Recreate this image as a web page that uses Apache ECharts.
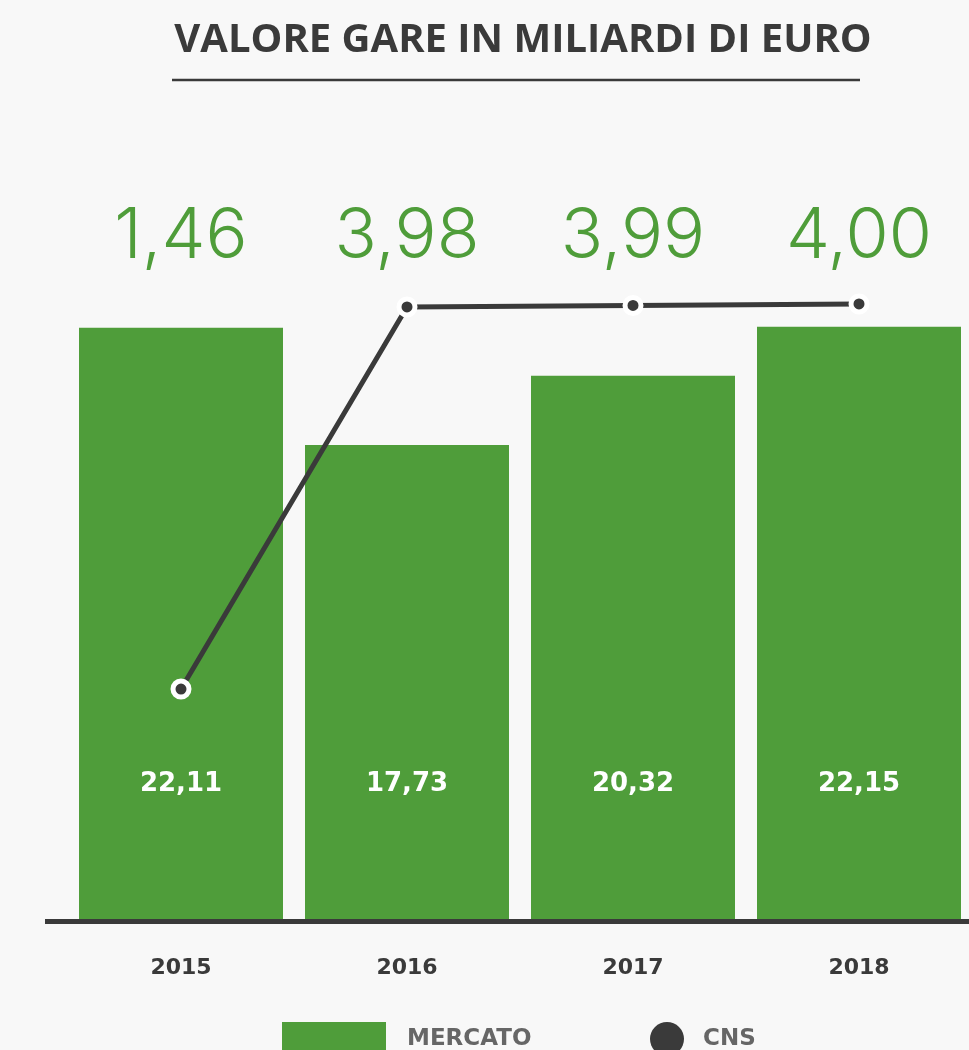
<!DOCTYPE html>
<html>
<head>
<meta charset="utf-8">
<script src="https://cdn.jsdelivr.net/npm/echarts@6/dist/echarts.min.js"></script>
<style>
  html, body { margin: 0; padding: 0; background: #f8f8f8; }
  #chart { width: 969px; height: 1050px; }
</style>
</head>
<body>
<div id="chart"></div>
<script>
// Anni di riferimento
const years = ['2015', '2016', '2017', '2018'];
// Valore gare del mercato (miliardi di euro)
const mercato = [22.11, 17.73, 20.32, 22.15];
// Valore gare CNS (miliardi di euro)
const cns = [1.46, 3.98, 3.99, 4.00];

const GREEN = '#4f9d3a';
const DARK = '#3a3a3a';

const fmt = v => v.toFixed(2).replace('.', ',');

const chart = echarts.init(document.getElementById('chart'), null, { renderer: 'canvas' });

chart.setOption({
  backgroundColor: '#f8f8f8',
  animation: false,
  title: {
    text: 'VALORE GARE IN MILIARDI DI EURO',
    left: 523,
    textAlign: 'center',
    top: 19,
    padding: 0,
    textStyle: {
      fontFamily: 'Open Sans',
      fontWeight: 'bold',
      fontSize: 40,
      lineHeight: 44,
      color: DARK
    }
  },
  graphic: [
    {
      type: 'line',
      shape: { x1: 172, y1: 80, x2: 860, y2: 80 },
      style: { stroke: DARK, lineWidth: 2.5 },
      z: 10
    },
    {
      type: 'line',
      shape: { x1: 45, y1: 921.5, x2: 969, y2: 921.5 },
      style: { stroke: DARK, lineWidth: 5 },
      z: 10
    }
  ],
  legend: [
    {
      data: ['MERCATO'],
      left: 282,
      top: 1022,
      padding: 0,
      itemWidth: 104,
      itemHeight: 34,
      icon: 'rect',
      textStyle: {
        fontFamily: 'DejaVu Sans',
        fontWeight: 'bold',
        fontSize: 23,
        color: '#666666',
        padding: [0, 0, 0, 16]
      }
    },
    {
      data: ['CNS'],
      left: 650,
      top: 1022,
      padding: 0,
      itemWidth: 34,
      itemHeight: 34,
      icon: 'circle',
      itemStyle: { color: DARK, borderWidth: 0 },
      textStyle: {
        fontFamily: 'DejaVu Sans',
        fontWeight: 'bold',
        fontSize: 23,
        color: '#666666',
        padding: [0, 0, 0, 14]
      }
    }
  ],
  grid: { left: 68, width: 904, top: 280, bottom: 131, outerBoundsMode: 'none', containLabel: false },
  xAxis: [
    {
      type: 'category',
      data: years,
      position: 'bottom',
      axisLine: { show: false },
      axisTick: { show: false },
      axisLabel: {
        margin: 38,
        fontFamily: 'DejaVu Sans',
        fontWeight: 'bold',
        fontSize: 22,
        lineHeight: 22,
        color: DARK
      }
    },
    {
      // valori CNS in evidenza sopra il grafico
      type: 'category',
      data: years,
      position: 'top',
      axisLine: { show: false },
      axisTick: { show: false },
      axisLabel: {
        margin: 8,
        fontFamily: 'Inter',
        fontWeight: 300,
        fontSize: 70,
        lineHeight: 70,
        color: GREEN,
        formatter: (value, index) => fmt(cns[index])
      }
    }
  ],
  yAxis: [
    { type: 'value', min: 0, max: 23.9, show: false, splitLine: { show: false } },
    { type: 'value', min: -0.057, max: 4.158, show: false, splitLine: { show: false } }
  ],
  series: [
    {
      name: 'MERCATO',
      type: 'bar',
      data: mercato,
      xAxisIndex: 0,
      yAxisIndex: 0,
      barWidth: 204,
      itemStyle: { color: GREEN },
      label: {
        show: true,
        position: 'insideBottom',
        distance: 121,
        fontFamily: 'DejaVu Sans',
        fontWeight: 'bold',
        fontSize: 26,
        lineHeight: 28,
        color: '#ffffff',
        formatter: p => fmt(p.value)
      },
      z: 2
    },
    {
      name: 'CNS',
      type: 'line',
      data: cns,
      xAxisIndex: 0,
      yAxisIndex: 1,
      symbol: 'circle',
      symbolSize: 16,
      lineStyle: { color: DARK, width: 5 },
      itemStyle: { color: DARK, borderColor: '#ffffff', borderWidth: 5 },
      z: 5
    }
  ]
});
</script>
</body>
</html>
